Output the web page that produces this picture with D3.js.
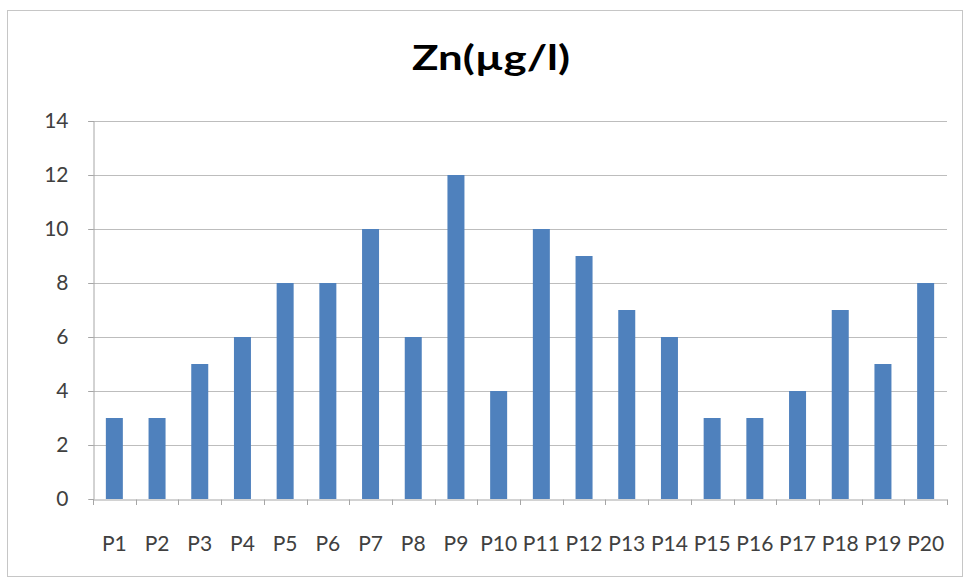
<!DOCTYPE html>
<html>
<head>
<meta charset="utf-8">
<script src="https://cdn.jsdelivr.net/npm/d3@7"></script>
<style>
  body { margin: 0; background: #fff; }
  text { font-family: Lato, "Open Sans", sans-serif; fill: #404040; }
</style>
</head>
<body>
<script>
var categories = ['P1','P2','P3','P4','P5','P6','P7','P8','P9','P10','P11','P12','P13','P14','P15','P16','P17','P18','P19','P20'];
var values = [3, 3, 5, 6, 8, 8, 10, 6, 12, 4, 10, 9, 7, 6, 3, 3, 4, 7, 5, 8];
var yTicks = [0, 2, 4, 6, 8, 10, 12, 14];

var width = 965, height = 584;
var plotLeft = 93, plotRight = 947, plotTop = 121, plotBottom = 499;

var svg = d3.select('body').append('svg')
  .attr('width', width).attr('height', height);

// chart frame
svg.append('rect')
  .attr('x', 7.5).attr('y', 10.5)
  .attr('width', 955).attr('height', 566)
  .attr('fill', '#fff').attr('stroke', '#c6c6c6');

var x = d3.scaleBand().domain(categories).range([plotLeft, plotRight]);
var y = d3.scaleLinear().domain([0, 14]).range([plotBottom, plotTop]);
var barW = 17;

// gridlines
svg.append('g').selectAll('line')
  .data(yTicks.filter(function (d) { return d > 0; }))
  .enter().append('line')
  .attr('x1', plotLeft - 5).attr('x2', plotRight)
  .attr('y1', function (d) { return Math.round(y(d)) + 0.5; })
  .attr('y2', function (d) { return Math.round(y(d)) + 0.5; })
  .attr('stroke', '#bdbdbd');

// bars
svg.append('g').selectAll('rect')
  .data(values)
  .enter().append('rect')
  .attr('x', function (d, i) { return x(categories[i]) + (x.bandwidth() - barW) / 2; })
  .attr('width', barW)
  .attr('y', function (d) { return y(d); })
  .attr('height', function (d) { return y(0) - y(d); })
  .attr('fill', '#4f81bd');

// y axis
var yAxis = svg.append('g')
  .attr('transform', 'translate(' + (plotLeft + 0.5) + ',0)')
  .call(d3.axisLeft(y).tickValues(yTicks).tickSize(5).tickPadding(20));
yAxis.selectAll('text').style('font-size', '21px').style('font-family', 'Lato').attr('fill', '#404040');

// x axis
var xAxis = svg.append('g')
  .attr('transform', 'translate(0,' + (Math.round(plotBottom) + 0.5) + ')')
  .call(d3.axisBottom(x).tickSize(0).tickPadding(37));
xAxis.selectAll('text').style('font-size', '21px').style('font-family', 'Lato').attr('fill', '#404040');

// category boundary ticks
svg.append('g').selectAll('line')
  .data(d3.range(categories.length + 1))
  .enter().append('line')
  .attr('x1', function (i) { return Math.round(plotLeft + i * x.step()) + 0.5; })
  .attr('x2', function (i) { return Math.round(plotLeft + i * x.step()) + 0.5; })
  .attr('y1', Math.round(plotBottom) + 0.5).attr('y2', Math.round(plotBottom) + 6)
  .attr('stroke', '#a6a6a6');

svg.selectAll('.domain').attr('stroke', '#a6a6a6');
svg.selectAll('.tick line').attr('stroke', '#a6a6a6');

// title
svg.append('text')
  .attr('x', 491).attr('y', 70)
  .attr('text-anchor', 'middle')
  .attr('textLength', 158).attr('lengthAdjust', 'spacingAndGlyphs')
  .style('font-size', '35px').style('font-weight', 'bold')
  .style('fill', '#000')
  .text('Zn(µg/l)');
</script>
</body>
</html>
